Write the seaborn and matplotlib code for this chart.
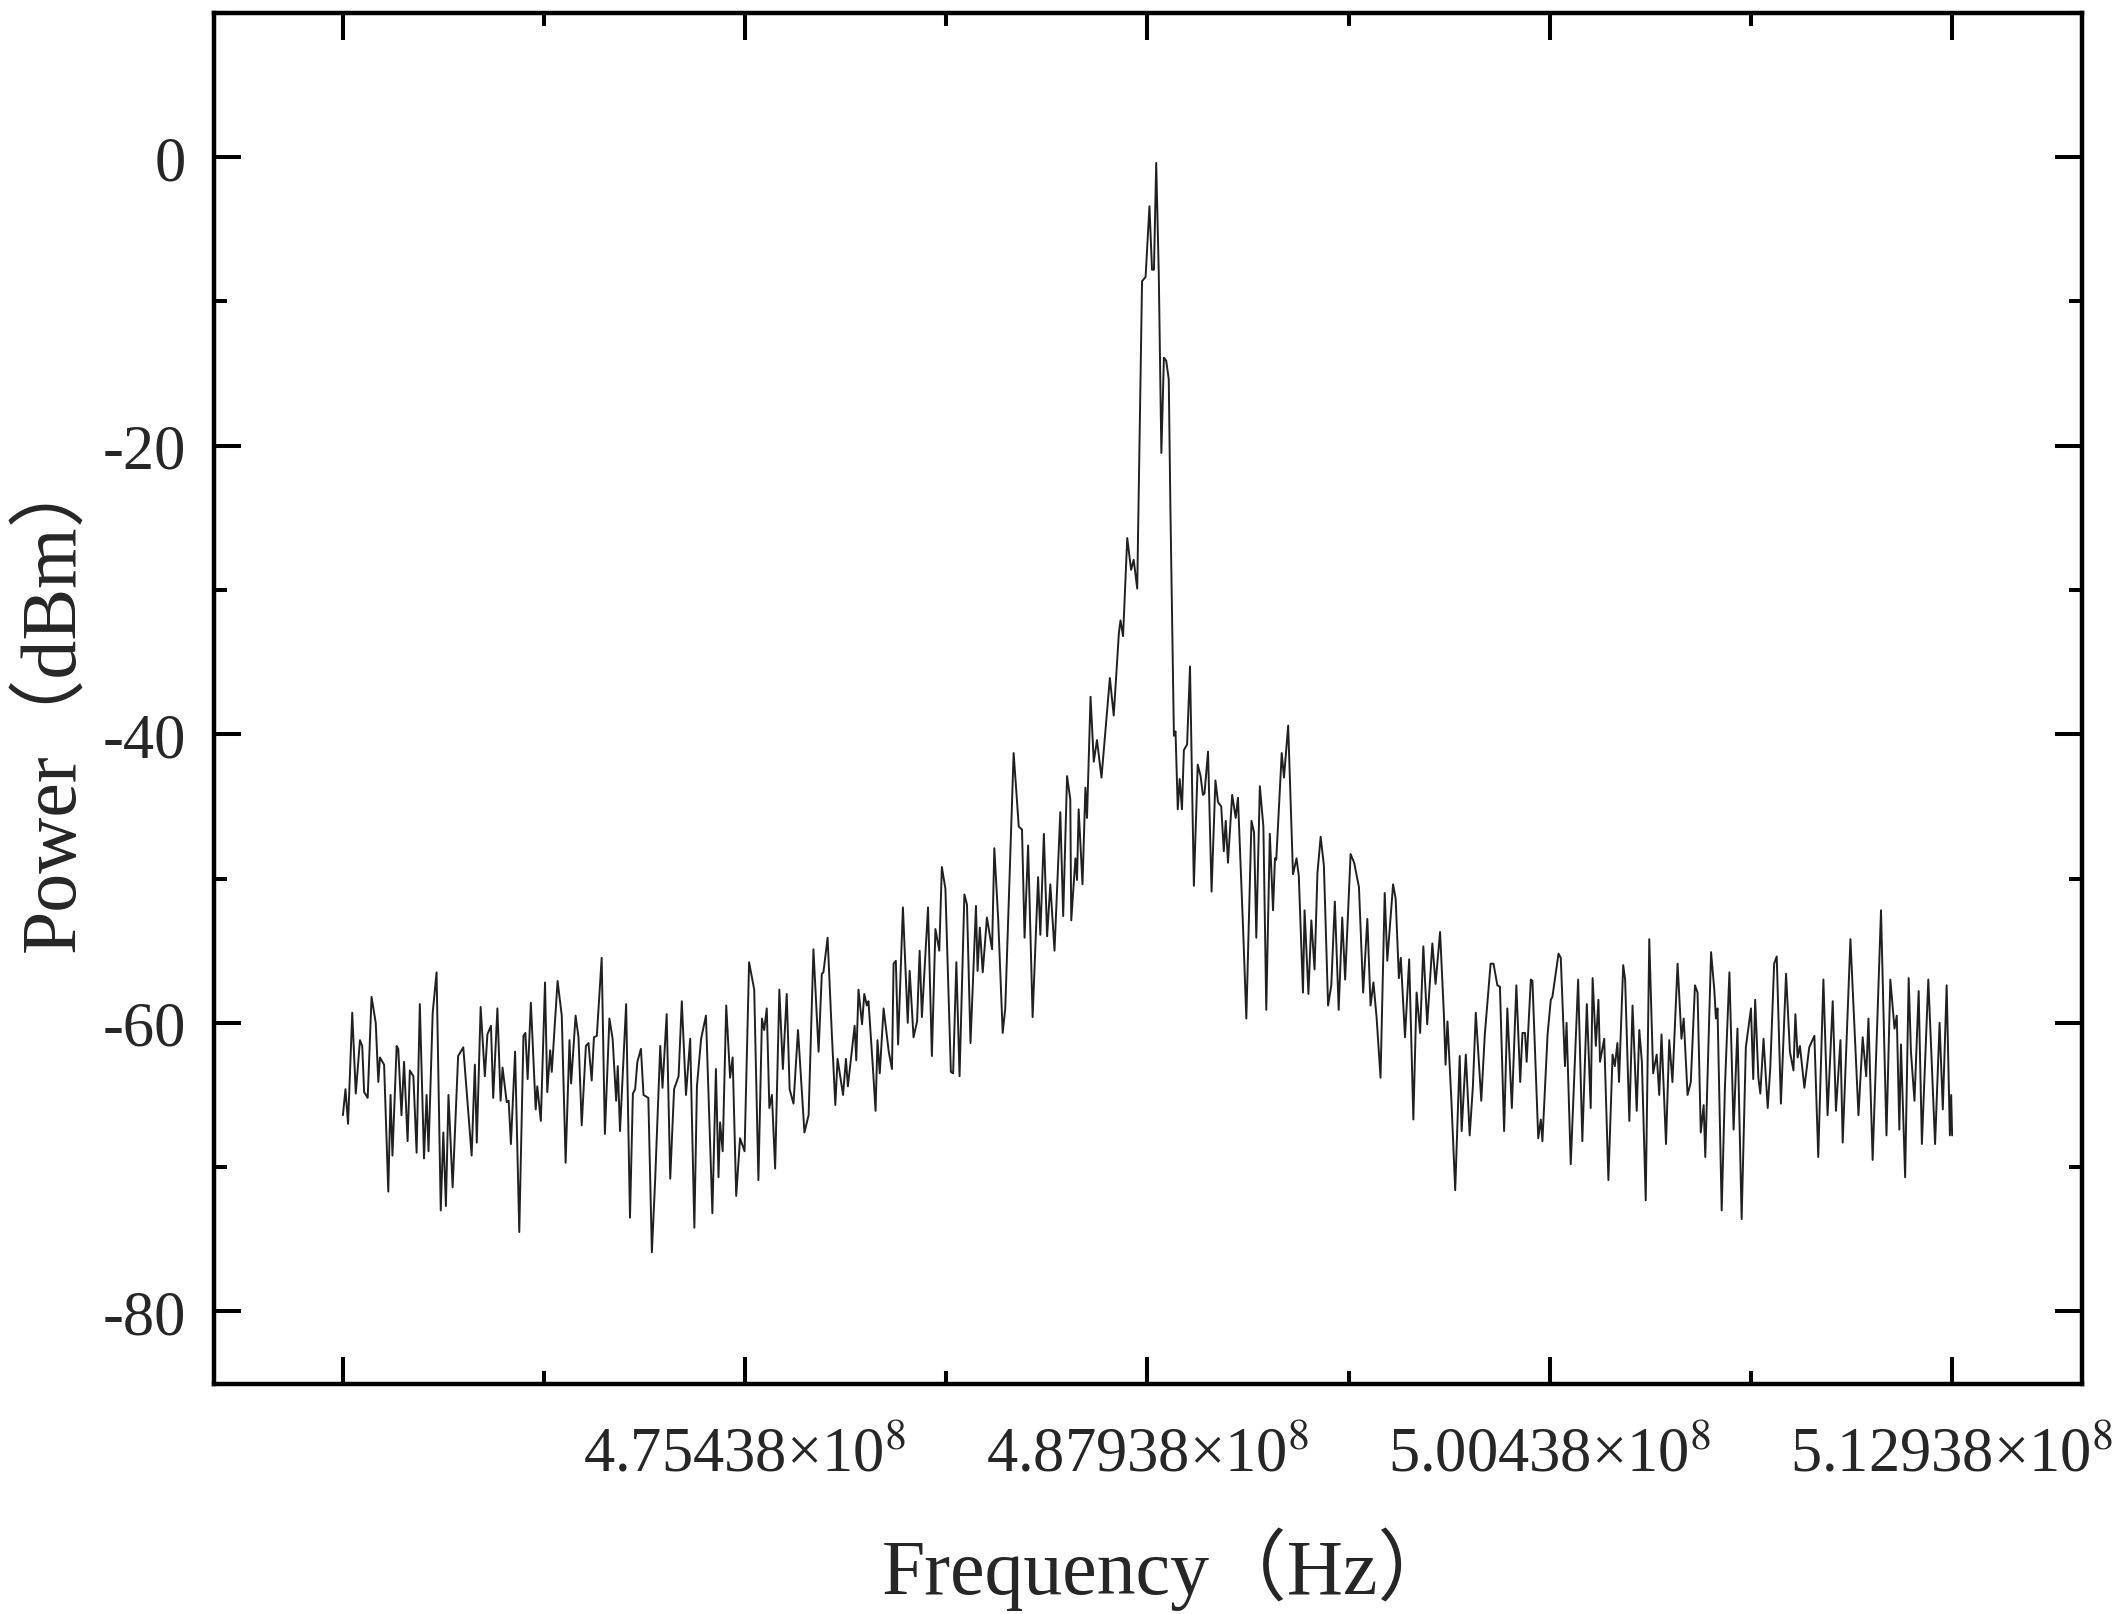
import numpy as np
import pandas as pd
import matplotlib
matplotlib.use('Agg')
import matplotlib.pyplot as plt
from matplotlib.ticker import FixedLocator, FixedFormatter, MultipleLocator
import seaborn as sns

sns.set_style('ticks')
# Times-like Latin text, CJK font only for the full-width brackets
plt.rcParams['font.family'] = ['Liberation Serif', 'Noto Sans CJK SC']
plt.rcParams['mathtext.fontset'] = 'stix'
plt.rcParams['axes.unicode_minus'] = False

# --- spectrum (frequency in MHz, power in dBm) ---
# left noise floor
left_freq = [462.94, 463.02, 463.10, 463.23, 463.34, 463.47, 463.54, 463.60, 463.71, 463.83,
             463.96, 464.04, 464.09, 464.22, 464.35, 464.42, 464.48, 464.61, 464.66, 464.76,
             464.84, 464.95, 465.02, 465.13, 465.23, 465.33, 465.46, 465.54, 465.60, 465.73,
             465.85, 465.98, 466.06, 466.14, 466.22, 466.35, 466.52, 466.68, 466.94, 467.04,
             467.10, 467.22, 467.35, 467.43, 467.54, 467.61, 467.74, 467.84, 467.90, 468.03,
             468.09, 468.16, 468.29, 468.42, 468.55, 468.61, 468.68, 468.78, 468.93, 468.98,
             469.09, 469.22, 469.29, 469.38, 469.43, 469.61, 469.74, 469.86, 469.98, 470.03,
             470.17, 470.26, 470.36, 470.49, 470.57, 470.67, 470.74, 470.83,
             470.98, 471.08, 471.22, 471.32, 471.43, 471.48, 471.55, 471.74, 471.86, 471.95,
             472.02, 472.09, 472.20, 472.28, 472.43, 472.54, 472.64, 472.80, 472.87, 473.00,
             473.11, 473.23, 473.37, 473.47, 473.60, 473.73, 473.86, 473.94, 474.07, 474.22,
             474.42, 474.53, 474.61, 474.66, 474.74, 474.85, 474.97, 475.05, 475.16, 475.28,
             475.42, 475.56, 475.72, 475.85, 475.96, 476.03, 476.11, 476.19, 476.27, 476.37,
             476.50, 476.61, 476.73, 476.82, 476.94, 477.08, 477.28, 477.41, 477.56, 477.72,
             477.82, 477.87, 478.00, 478.13, 478.24, 478.31, 478.48, 478.57, 478.63, 478.84,
             478.89, 478.96, 479.07, 479.14, 479.22, 479.27, 479.41, 479.49, 479.55]
left_power = [-66.4, -64.6, -67.0, -59.3, -64.9, -61.2, -61.6, -64.8, -65.2, -58.2,
              -60.0, -64.1, -62.4, -62.9, -71.7, -65.0, -69.2, -61.6, -61.8, -66.4,
              -62.7, -68.2, -63.3, -63.7, -69.0, -58.7, -69.4, -65.0, -68.9, -59.3,
              -56.5, -73.0, -67.6, -72.7, -65.0, -71.4, -62.3, -61.7, -69.2, -62.9,
              -68.3, -58.9, -63.7, -60.8, -60.2, -65.2, -59.0, -65.4, -63.1, -65.5,
              -65.4, -68.4, -62.0, -74.5, -60.9, -60.7, -63.9, -58.6, -66.0, -64.4,
              -66.8, -57.2, -64.8, -61.9, -63.4, -57.1, -59.5, -69.7, -61.2, -64.2,
              -59.5, -61.0, -67.1, -61.6, -61.4, -64.0, -61.0, -60.9,
              -55.5, -67.7, -59.7, -61.1, -65.4, -63.0, -67.5, -58.7, -73.5, -64.9,
              -64.6, -62.7, -61.8, -65.0, -65.2, -75.9, -71.0, -61.6, -64.5, -59.4,
              -70.8, -64.6, -63.7, -58.5, -65.0, -61.1, -74.2, -64.4, -61.1, -59.5,
              -73.2, -63.2, -70.7, -66.9, -68.9, -58.8, -63.8, -62.4, -72.0, -68.0,
              -68.9, -55.8, -57.7, -70.9, -59.7, -60.5, -59.0, -65.9, -65.0, -70.1,
              -57.7, -63.2, -58.0, -64.6, -65.6, -60.5, -67.6, -66.4, -54.9, -62.0,
              -56.6, -56.5, -54.1, -60.7, -65.7, -62.5, -65.0, -62.5, -64.4, -60.2,
              -62.6, -57.7, -60.1, -58.0, -58.8, -58.5, -63.2, -66.1, -61.2]

# rising skirt below the carrier
rise_freq = [479.62, 479.74, 479.90, 480.00, 480.05, 480.12, 480.19, 480.34, 480.49, 480.55,
             480.67, 480.78, 480.86, 480.93, 481.12, 481.24, 481.35, 481.47, 481.55, 481.66,
             481.83, 481.90, 482.00, 482.10, 482.25, 482.33, 482.44, 482.61, 482.66, 482.73,
             482.82, 482.95, 483.11, 483.18, 483.30, 483.44, 483.52, 483.78, 483.94, 484.04,
             484.12, 484.23, 484.37, 484.54, 484.61, 484.72, 484.82, 484.92, 485.05, 485.23,
             485.32, 485.44, 485.54, 485.57, 485.70, 485.75, 485.80, 485.92, 486.01, 486.06,
             486.17, 486.27, 486.37, 486.51, 486.77, 486.89]
rise_power = [-63.5, -59.0, -62.0, -63.2, -55.9, -55.7, -61.5, -52.0, -60.0, -56.4,
              -61.0, -59.9, -55.0, -59.6, -52.0, -62.3, -53.5, -55.0, -49.2, -50.7,
              -63.4, -63.5, -55.8, -63.7, -51.1, -51.8, -61.4, -51.9, -56.4, -53.4,
              -56.5, -52.7, -54.9, -47.9, -52.8, -60.7, -59.0, -41.3, -46.4, -46.6,
              -54.1, -47.7, -59.6, -49.9, -53.9, -46.9, -54.0, -50.4, -55.0, -45.4,
              -52.6, -42.9, -44.5, -52.9, -48.6, -50.1, -45.2, -50.4, -43.7, -45.8,
              -37.4, -41.9, -40.4, -43.0, -36.1, -38.7]

# carrier
peak_freq = [487.05, 487.10, 487.18, 487.31, 487.43, 487.51, 487.62, 487.77, 487.88, 488.00,
             488.08, 488.14, 488.21, 488.29, 488.37, 488.45, 488.52, 488.60, 488.65]
peak_power = [-33.0, -32.1, -33.2, -26.4, -28.6, -27.9, -29.9, -8.6, -8.3, -3.4,
              -7.8, -7.8, -0.4, -8.1, -20.5, -13.9, -14.1, -15.4, -24.2]

# falling skirt above the carrier
fall_freq = [488.76, 488.81, 488.88, 488.94, 489.01, 489.07, 489.17, 489.26, 489.38, 489.50,
             489.59, 489.66, 489.71, 489.82, 489.93, 490.05, 490.13, 490.23, 490.31, 490.37,
             490.44, 490.57, 490.68, 490.75, 490.91, 491.01, 491.17, 491.25, 491.32, 491.43,
             491.54, 491.63, 491.74, 491.84, 491.90, 491.94, 492.11, 492.18, 492.31, 492.46,
             492.57, 492.64, 492.77, 492.82, 492.94, 493.03, 493.13, 493.22, 493.32, 493.42,
             493.55, 493.65, 493.76, 493.88, 493.99, 494.08, 494.25, 494.36, 494.51, 494.64,
             494.77, 494.87, 494.96, 495.06, 495.18, 495.31, 495.39, 495.57, 495.65, 495.75,
             495.81, 495.94, 496.07, 496.20, 496.30, 496.41]
fall_power = [-40.1, -39.8, -45.2, -43.1, -45.2, -41.1, -40.7, -35.3, -50.5, -42.1,
              -42.9, -44.2, -44.1, -41.2, -50.9, -43.2, -44.7, -45.0, -48.1, -46.0,
              -48.9, -44.2, -45.8, -44.4, -53.5, -59.7, -46.0, -46.8, -54.1, -43.6,
              -46.4, -59.1, -46.9, -52.2, -48.6, -48.7, -41.3, -43.0, -39.4, -49.7,
              -48.6, -49.8, -57.9, -52.2, -58.0, -52.9, -56.3, -49.6, -47.1, -49.1,
              -58.8, -57.4, -51.6, -59.1, -52.7, -57.0, -48.3, -48.9, -50.6, -57.9,
              -52.8, -58.8, -57.2, -59.7, -63.8, -51.0, -55.7, -50.4, -51.4, -56.9,
              -55.5, -61.0, -55.6, -66.7, -57.9, -60.7]

# right noise floor
right_freq = [496.51, 496.63, 496.79, 496.89, 497.03, 497.15, 497.20, 497.26, 497.38, 497.50,
              497.64, 497.70, 497.83, 497.95, 498.05, 498.14, 498.31, 498.42, 498.60, 498.69,
              498.81, 498.89, 499.02, 499.12, 499.26, 499.40, 499.52, 499.59, 499.67, 499.72,
              499.85, 499.90, 500.08, 500.16, 500.21, 500.37, 500.47, 500.52, 500.71, 500.78,
              500.91, 500.96, 501.09, 501.32, 501.45, 501.59, 501.71, 501.77, 501.87, 501.95,
              502.00, 502.13, 502.26, 502.39, 502.46, 502.54, 502.59, 502.72, 502.78, 502.91,
              503.01, 503.14, 503.22, 503.30, 503.42, 503.53, 503.65, 503.76, 503.84, 503.91,
              504.05, 504.15, 504.25, 504.41, 504.53,
              504.60, 504.72, 504.82, 504.95, 505.03, 505.13, 505.22, 505.27, 505.45, 505.55,
              505.60, 505.65, 505.78, 505.88, 506.02, 506.15, 506.27, 506.40, 506.53, 506.69,
              506.76, 506.82, 506.92, 506.98, 507.08, 507.21, 507.29, 507.41, 507.49, 507.62,
              507.78, 507.90, 508.01, 508.07, 508.14, 508.21, 508.35, 508.50, 508.66, 508.78,
              508.94, 509.07, 509.23, 509.33, 509.47, 509.54, 509.78, 510.03, 510.16, 510.27,
              510.34, 510.47, 510.73, 510.90, 511.02, 511.15, 511.22, 511.30, 511.35, 511.48,
              511.59, 511.66, 511.77, 511.90, 512.00, 512.20, 512.41, 512.55, 512.65, 512.77,
              512.87, 512.91, 512.94]
right_power = [-54.7, -60.1, -54.5, -57.3, -53.7, -59.5, -62.9, -59.9, -65.3, -71.6,
               -62.3, -67.5, -62.2, -67.8, -64.4, -59.3, -65.4, -60.8, -55.9, -55.9,
               -57.4, -57.5, -67.5, -59.0, -65.9, -57.4, -64.1, -60.7, -60.7, -62.7,
               -57.0, -57.1, -68.0, -66.7, -68.2, -60.8, -58.4, -58.2, -55.2, -55.5,
               -63.0, -60.0, -69.8, -57.0, -68.2, -58.7, -65.9, -56.9, -61.6, -58.4,
               -62.7, -61.1, -70.9, -62.2, -63.0, -61.4, -64.1, -56.0, -57.0, -66.8,
               -58.8, -66.1, -60.5, -62.7, -72.3, -54.2, -63.5, -62.2, -65.0, -60.8,
               -68.4, -61.2, -64.1, -55.9, -61.1,
               -59.7, -65.0, -64.1, -57.4, -57.9, -67.6, -65.7, -69.3, -55.1, -57.7,
               -59.7, -59.0, -73.0, -64.5, -56.5, -67.4, -60.4, -73.6, -61.7, -59.0,
               -63.9, -58.4, -63.8, -64.9, -61.1, -65.9, -63.1, -55.9, -55.4, -65.6,
               -56.6, -62.0, -63.3, -59.4, -62.4, -61.6, -64.5, -61.7, -60.9, -69.3,
               -57.0, -66.4, -58.5, -66.1, -61.2, -68.3, -54.2, -66.4, -61.0, -63.7,
               -59.7, -69.5, -52.2, -67.8, -57.0, -60.4, -59.5, -67.4, -61.5, -70.7,
               -56.9, -62.0, -65.4, -57.8, -68.4, -57.0, -68.4, -60.0, -66.0, -57.4,
               -67.8, -65.0, -67.8]

major_freq = [462.938, 475.438, 487.938, 500.438, 512.938]
minor_freq = [469.188, 481.688, 494.188, 506.688]
major_labels = ['', '4.75438×10$^{8}$', '4.87938×10$^{8}$', '5.00438×10$^{8}$', '5.12938×10$^{8}$']

freq_mhz = left_freq + rise_freq + peak_freq + fall_freq + right_freq
power = left_power + rise_power + peak_power + fall_power + right_power
assert len(freq_mhz) == len(power)

df = pd.DataFrame({'Frequency': np.array(freq_mhz) * 1e6, 'Power': power})

fig = plt.figure(figsize=(21.24, 16.15), dpi=100)
ax = fig.add_axes([0.1008, 0.1427, 0.8795, 0.8487])

sns.lineplot(data=df, x='Frequency', y='Power', ax=ax, color='#202020',
             linewidth=1.4, estimator=None, sort=False)

ax.set_xlim(458.938e6, 516.98e6)
ax.set_ylim(-85, 10)

ax.xaxis.set_major_locator(FixedLocator([f * 1e6 for f in major_freq]))
ax.xaxis.set_major_formatter(FixedFormatter(major_labels))
ax.xaxis.set_minor_locator(FixedLocator([f * 1e6 for f in minor_freq]))
ax.yaxis.set_major_locator(MultipleLocator(20))
ax.yaxis.set_minor_locator(MultipleLocator(10))

ax.tick_params(which='both', direction='in', top=True, right=True,
               width=2.9, color='black')
ax.tick_params(which='major', length=19.5)
ax.tick_params(which='minor', length=9.5)
ax.tick_params(axis='x', which='major', labelsize=45, pad=31)
ax.tick_params(axis='y', which='major', labelsize=45, pad=20)

for side in ['left', 'right', 'top', 'bottom']:
    ax.spines[side].set_visible(True)
    ax.spines[side].set_linewidth(3.2)
    ax.spines[side].set_color('black')

ax.set_xlabel('Frequency（Hz）', fontsize=56)
ax.set_ylabel('Power（dBm）', fontsize=56)
ax.xaxis.set_label_coords(0.511, -0.104)
ax.yaxis.set_label_coords(-0.066, 0.5)

fig.savefig('out.png', dpi=100, facecolor='white')
